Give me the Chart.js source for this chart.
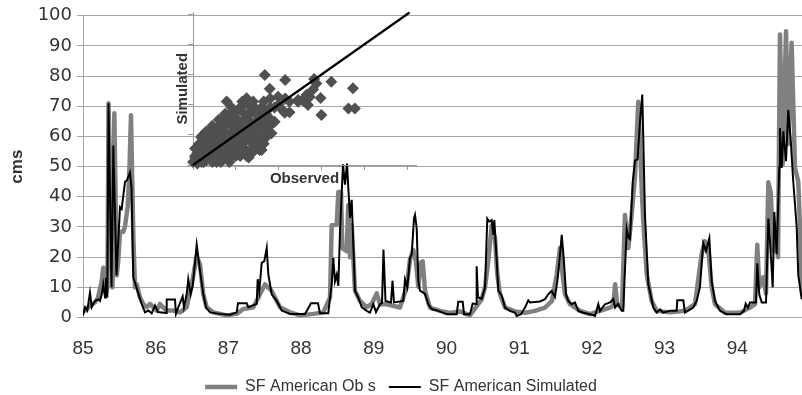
<!DOCTYPE html>
<html lang="en">
<head>
  <meta charset="UTF-8" />
  <title>SF American observed vs simulated</title>
  <style>
    body { margin: 0; background: #fff; }
    #wrap { position: relative; width: 802px; height: 395px; }
    #main { position: absolute; left: 0; top: 0; }
    #inset { position: absolute; left: 160px; top: 0; }
  </style>
</head>
<body>
  <div id="wrap">
    <canvas id="main" width="802" height="395"></canvas>
    <canvas id="inset" width="262" height="195"></canvas>
  </div>

  <script src="https://cdn.jsdelivr.net/npm/chart.js"></script>
  <script>
    // year ticks on the time axis
    const yearTicks = [85, 86, 87, 88, 89, 90, 91, 92, 93, 94];

    // [decimal year, cms]
    const observed = [
      [85.000, 2], [85.041, 2.5], [85.096, 4], [85.165, 5], [85.206, 6.6], [85.257, 12], [85.279, 16.5],
      [85.316, 8], [85.337, 10], [85.351, 71], [85.378, 40], [85.406, 10], [85.431, 67.7], [85.464, 14],
      [85.486, 19], [85.509, 28.4], [85.554, 28.4], [85.578, 30.3], [85.615, 36.8], [85.640, 50], [85.660, 67],
      [85.692, 27], [85.715, 10], [85.739, 11], [85.784, 6.6], [85.829, 4.5], [85.876, 3.4], [85.922, 4.5],
      [85.967, 3.4], [86.014, 2.3], [86.059, 4.5], [86.100, 3.4], [86.151, 2.3], [86.242, 2.3], [86.334, 1.7],
      [86.426, 3.4], [86.495, 11], [86.564, 20.3], [86.609, 17.6], [86.655, 7.7], [86.701, 3.4], [86.792, 1.7],
      [86.977, 0.7], [87.114, 1.2], [87.205, 2.8], [87.343, 3.4], [87.435, 7.7], [87.503, 11], [87.549, 9.9],
      [87.596, 8.8], [87.641, 6.6], [87.710, 3.4], [87.847, 1.7], [87.985, 0.7], [88.168, 1.2], [88.305, 1.7],
      [88.398, 6.6], [88.421, 30.6], [88.490, 30.7], [88.512, 41.6], [88.549, 41.6], [88.567, 23], [88.627, 22],
      [88.649, 37.2], [88.673, 20], [88.696, 30.6], [88.741, 8.9], [88.810, 5.5], [88.902, 3.4], [88.971, 4.5],
      [89.040, 8], [89.085, 4.4], [89.177, 4.4], [89.360, 3.3], [89.451, 10], [89.498, 19.2], [89.543, 22.4],
      [89.580, 18.5], [89.612, 10.2], [89.645, 18.1], [89.673, 18.6], [89.704, 8.9], [89.773, 3.3], [89.910, 2.2],
      [90.048, 1.5], [90.186, 2], [90.323, 0.7], [90.392, 3], [90.484, 6], [90.530, 10], [90.575, 18.7],
      [90.622, 30.6], [90.667, 26.3], [90.699, 14.3], [90.736, 7.7], [90.805, 3.3], [90.942, 2], [91.080, 1.6],
      [91.217, 2.2], [91.355, 3.3], [91.451, 5.5], [91.516, 14.3], [91.561, 23], [91.598, 14], [91.630, 7.7],
      [91.699, 4.4], [91.837, 2.2], [91.974, 1.1], [92.111, 2.2], [92.249, 3.3], [92.294, 4], [92.320, 11],
      [92.348, 4.4], [92.414, 3.3], [92.455, 34], [92.501, 23], [92.547, 34], [92.593, 47], [92.638, 71.5],
      [92.669, 53.5], [92.685, 42.7], [92.707, 31.9], [92.754, 14.3], [92.822, 5.5], [92.891, 2.2], [93.074, 1.7],
      [93.280, 2.2], [93.417, 4.4], [93.510, 21], [93.555, 25.3], [93.600, 23], [93.648, 10], [93.693, 4.4],
      [93.831, 1.6], [94.037, 1.6], [94.175, 3.3], [94.243, 4.4], [94.275, 24.1], [94.302, 10], [94.357, 13.3],
      [94.395, 8], [94.427, 44.8], [94.460, 41.5], [94.496, 21.9], [94.532, 29.5], [94.560, 20], [94.587, 93.8],
      [94.624, 50.7], [94.670, 94.9], [94.701, 57.5], [94.747, 91.1], [94.794, 49.6], [94.839, 45], [94.862, 30],
      [94.890, 8]
    ];

    const simulated = [
      [85.000, 0.7], [85.028, 3.4], [85.059, 2.3], [85.096, 8.2], [85.120, 3.4], [85.165, 5.5], [85.210, 6],
      [85.234, 5.5], [85.257, 7.6], [85.279, 11], [85.303, 6.6], [85.316, 13.2], [85.334, 6.6], [85.351, 71],
      [85.392, 10], [85.417, 57], [85.461, 14], [85.509, 36.6], [85.532, 36], [85.578, 45], [85.605, 45.5],
      [85.646, 48], [85.667, 43], [85.692, 13.2], [85.715, 11.6], [85.761, 7.9], [85.807, 4.5], [85.853, 1.7],
      [85.898, 2.3], [85.945, 1.4], [85.990, 4], [86.032, 1.8], [86.142, 1.5], [86.151, 6], [86.265, 6],
      [86.279, 1.2], [86.311, 3.4], [86.371, 7], [86.389, 3.4], [86.426, 7.7], [86.448, 12.7], [86.481, 7.7],
      [86.509, 10.5], [86.564, 24.1], [86.609, 15.5], [86.655, 7.7], [86.692, 3.4], [86.747, 1.7], [86.884, 1.2],
      [87.022, 0.9], [87.114, 1.7], [87.132, 4.7], [87.252, 4.7], [87.274, 3.4], [87.389, 4.5], [87.403, 12.7],
      [87.425, 8.8], [87.458, 18.1], [87.494, 18.7], [87.527, 23.1], [87.549, 14.4], [87.596, 7.7], [87.664, 5.5],
      [87.733, 2.3], [87.847, 1.2], [87.961, 1.2], [88.054, 1.2], [88.136, 4.7], [88.232, 4.7], [88.260, 1.4],
      [88.374, 1.4], [88.398, 6.6], [88.421, 11], [88.443, 19.8], [88.466, 12], [88.490, 14.2], [88.512, 10.5],
      [88.535, 28.4], [88.576, 50.8], [88.604, 44], [88.631, 51], [88.673, 33], [88.696, 39], [88.741, 8.9],
      [88.787, 6.6], [88.834, 3.4], [88.902, 2.2], [88.948, 1.6], [88.993, 4.4], [89.030, 1.8], [89.085, 4.4],
      [89.113, 4.8], [89.133, 22.5], [89.161, 5.5], [89.237, 5], [89.257, 12.2], [89.278, 5], [89.406, 5.5],
      [89.429, 12.6], [89.461, 10], [89.498, 19.8], [89.521, 20.8], [89.553, 32.8], [89.567, 34], [89.590, 29.6],
      [89.612, 12.2], [89.636, 8.9], [89.704, 7.8], [89.750, 4.4], [89.796, 2.8], [89.887, 2.2], [90.003, 1.1],
      [90.140, 1.1], [90.162, 5.2], [90.223, 5.2], [90.241, 1.1], [90.323, 1.1], [90.360, 4.6], [90.406, 4.5],
      [90.415, 17], [90.433, 6.7], [90.484, 6.2], [90.530, 10], [90.561, 32.8], [90.589, 31.8], [90.622, 32.3],
      [90.644, 27.4], [90.658, 32.3], [90.691, 18.7], [90.713, 8.9], [90.759, 7.3], [90.805, 3.3], [90.873, 2.2],
      [90.942, 1.6], [90.966, 0.5], [91.025, 1.1], [91.080, 3.3], [91.125, 5.7], [91.149, 5], [91.286, 5.3],
      [91.355, 6.1], [91.400, 7.7], [91.447, 8.8], [91.492, 6.8], [91.524, 12], [91.552, 18.5], [91.585, 27.4],
      [91.616, 18.5], [91.644, 7.7], [91.675, 5.5], [91.722, 4.4], [91.767, 5], [91.813, 2.2], [91.882, 1.6],
      [91.974, 1.1], [92.043, 0.5], [92.088, 4.4], [92.111, 2.2], [92.180, 4.4], [92.249, 5], [92.294, 6.1],
      [92.320, 3.3], [92.359, 4.5], [92.410, 2.2], [92.432, 2.2], [92.448, 12], [92.479, 29.3], [92.501, 26.6],
      [92.524, 26], [92.561, 44.8], [92.593, 52], [92.628, 52.5], [92.662, 65], [92.693, 73.9], [92.730, 34],
      [92.776, 11], [92.845, 3.3], [92.891, 1.6], [92.937, 2.7], [92.978, 1.6], [93.074, 2.2], [93.166, 2.2],
      [93.174, 5.7], [93.257, 5.7], [93.280, 1.6], [93.394, 3.3], [93.441, 5.5], [93.486, 10], [93.532, 24.7],
      [93.569, 22], [93.615, 26.3], [93.648, 12], [93.693, 5.5], [93.762, 2.2], [93.854, 1.1], [94.037, 1.1],
      [94.092, 2.2], [94.115, 4.6], [94.147, 3.3], [94.175, 5], [94.257, 5], [94.275, 18], [94.302, 7.7],
      [94.336, 5], [94.395, 5], [94.427, 32.8], [94.450, 25.2], [94.487, 10], [94.509, 35], [94.542, 21],
      [94.578, 50], [94.587, 62.8], [94.611, 49.6], [94.633, 61.7], [94.670, 51.8], [94.701, 68.8], [94.734, 59.1],
      [94.770, 45], [94.817, 30], [94.839, 14], [94.886, 6]
    ];

    // inset: [observed, simulated]
    const scatterPts = [
      [0, 2], [1, 5], [2, 1], [3, 4], [4, 2], [5, 6], [6, 3], [2, 8], [4, 10], [7, 8], [8, 4], [9, 10], [10, 6],
      [11, 2], [12, 8], [6, 13], [3, 14], [1, 11], [5, 17], [8, 15], [10, 12], [12, 15], [14, 10], [15, 5],
      [16, 12], [13, 19], [9, 20], [7, 22], [4, 19], [11, 24], [14, 25], [17, 17], [18, 21], [20, 14], [19, 8],
      [22, 6], [24, 11], [21, 18], [23, 23], [16, 28], [13, 30], [19, 31], [22, 27], [25, 19], [26, 24], [28, 9],
      [30, 12], [32, 10], [27, 15], [29, 20], [25, 31], [18, 35], [22, 37], [26, 34], [30, 28], [33, 25], [35, 27],
      [31, 18], [28, 39], [24, 41], [15.7, 42], [25, 44.2], [31, 36], [35, 32], [38, 38], [36, 44], [40, 40],
      [42, 36], [39.7, 45.2], [43, 44], [45, 42], [45, 35], [33.5, 59.6], [43, 56.3], [35.8, 50.5], [49, 43],
      [51, 43], [53, 46.5], [54.4, 45], [56, 50], [57.5, 54], [56.5, 57], [64.5, 55.2], [74.6, 50.8], [72.5, 37.5],
      [75.5, 37.5], [59.5, 44.4], [59.9, 33.1], [53.6, 39.7], [42.8, 34.6], [30.4, 34.2], [35.8, 27.6], [28, 8.8],
      [21.9, 6.6], [34.3, 18.7], [36.6, 21], [38.1, 28.7], [49, 41.9], [17, 4], [20, 10], [26, 5], [33, 14],
      [5, 2], [9, 2], [13, 2], [17, 2], [1, 6], [6, 6], [11, 6], [16, 6], [20, 6], [25, 6],
      [2, 10], [7, 10], [12, 10], [17, 10], [22, 10], [27, 10], [31, 10],
      [3, 14], [8, 14], [13, 14], [18, 14], [23, 14], [28, 14], [32, 14],
      [4, 18], [9, 18], [14, 18], [19, 18], [24, 18], [29, 18], [33, 18],
      [6, 22], [10, 22], [15, 22], [20, 22], [25, 22], [30, 22], [34, 22],
      [9, 26], [13, 26], [18, 26], [23, 26], [28, 26], [33, 26], [36, 26],
      [12, 30], [16, 30], [21, 30], [26, 30], [31, 30], [35, 30],
      [15, 34], [19, 34], [24, 34], [29, 34], [34, 34],
      [18, 38], [22, 38], [27, 38], [32, 38], [36, 38],
      [23, 42], [28, 42], [33, 42]
    ];
    const oneToOne = [[0, 0], [101, 101]];
    const insetTicks = [0, 20, 40, 60, 80, 100];

    const toXY = p => ({ x: p[0], y: p[1] });
    const gridGray = "#a6a6a6";
    const textColor = "#333";

    new Chart(document.getElementById("main"), {
      type: "line",
      data: {
        datasets: [
          {
            label: "SF American Ob s",
            data: observed.map(toXY),
            borderColor: "#808080",
            backgroundColor: "#808080",
            borderWidth: 4.5,
            borderJoinStyle: "round",
            pointRadius: 0,
            order: 1
          },
          {
            label: "SF American Simulated",
            data: simulated.map(toXY),
            borderColor: "#000",
            backgroundColor: "#000",
            borderWidth: 2,
            pointRadius: 0,
            order: 0
          }
        ]
      },
      options: {
        responsive: false,
        animation: false,
        layout: { padding: { top: 14.5, right: 0, left: 0, bottom: -10 } },
        scales: {
          x: {
            type: "linear",
            min: 85,
            max: 94.89,
            afterBuildTicks: scale => { scale.ticks = yearTicks.map(v => ({ value: v })); },
            afterFit: scale => { scale.height = 48.5; },
            ticks: {
              color: textColor,
              padding: 20,
              font: { family: "Liberation Sans", size: 19 },
              callback: v => String(v)
            },
            grid: { display: false, drawTicks: false },
            border: { display: false }
          },
          y: {
            min: 0,
            max: 100,
            afterFit: scale => { scale.width = 83; },
            ticks: {
              stepSize: 10,
              color: textColor,
              padding: 5,
              font: { family: "DejaVu Sans", size: 18 }
            },
            grid: { color: gridGray, tickLength: 6 },
            border: { color: gridGray },
            title: {
              display: true,
              text: "cms",
              color: textColor,
              padding: { top: 7, bottom: 0 },
              font: { family: "Liberation Sans", size: 17, weight: "bold" }
            }
          }
        },
        plugins: {
          legend: {
            position: "bottom",
            labels: {
              usePointStyle: true,
              pointStyle: "line",
              pointStyleWidth: 32,
              padding: 13,
              color: textColor,
              font: { family: "Liberation Sans", size: 16 },
              sort: (a, b) => a.datasetIndex - b.datasetIndex
            }
          },
          tooltip: { enabled: false }
        }
      }
    });

    new Chart(document.getElementById("inset"), {
      data: {
        datasets: [
          {
            type: "line",
            data: oneToOne.map(toXY),
            borderColor: "#000",
            borderWidth: 2.2,
            pointRadius: 0,
            clip: false,
            order: 0
          },
          {
            type: "scatter",
            data: scatterPts.map(toXY),
            backgroundColor: "#505050",
            borderWidth: 0,
            pointStyle: "rectRot",
            pointRadius: 6,
            clip: false,
            order: 1
          }
        ]
      },
      options: {
        responsive: false,
        animation: false,
        layout: { padding: { top: 12.5, right: 5, left: 0, bottom: 0 } },
        scales: {
          x: {
            type: "linear",
            min: 0,
            max: 104,
            afterBuildTicks: scale => { scale.ticks = insetTicks.map(v => ({ value: v })); },
            afterFit: scale => { scale.height = 30; },
            ticks: { display: false },
            grid: { drawOnChartArea: false, tickLength: 5, color: "#999" },
            border: { color: "#999" },
            title: {
              display: true,
              text: "Observed",
              color: textColor,
              padding: { top: 0, bottom: 7.6 },
              font: { family: "Liberation Sans", size: 15, weight: "bold" }
            }
          },
          y: {
            type: "linear",
            min: 0,
            max: 101,
            afterBuildTicks: scale => { scale.ticks = insetTicks.map(v => ({ value: v })); },
            afterFit: scale => { scale.width = 33; },
            ticks: { display: false },
            grid: { drawOnChartArea: false, tickLength: 5, color: "#999" },
            border: { color: "#999" },
            title: {
              display: true,
              text: "Simulated",
              color: textColor,
              padding: { top: 13.6, bottom: 0 },
              font: { family: "Liberation Sans", size: 15, weight: "bold" }
            }
          }
        },
        plugins: {
          legend: { display: false },
          tooltip: { enabled: false }
        }
      }
    });
  </script>
</body>
</html>
